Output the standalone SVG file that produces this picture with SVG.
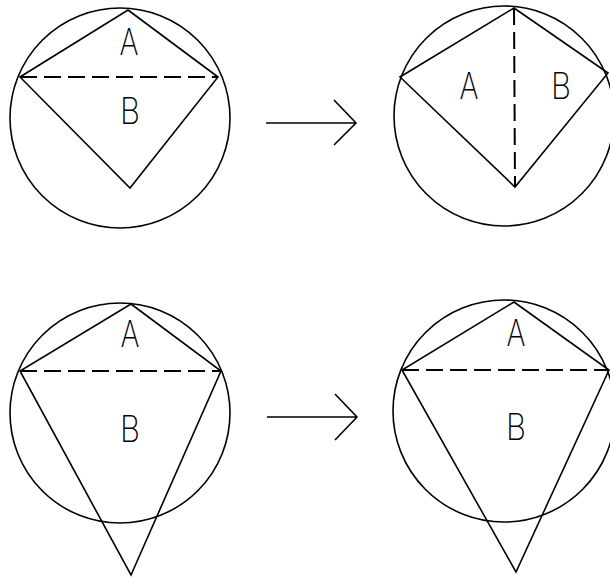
<svg xmlns="http://www.w3.org/2000/svg" width="610" height="577" viewBox="0 0 610 577">
<style>
  .c { fill: none; stroke: #000; stroke-width: 1.6; }
  .s { fill: none; stroke: #000; stroke-width: 1.6; stroke-linejoin: miter; }
  .d { fill: none; stroke: #000; stroke-width: 2; stroke-dasharray: 17 7; }
  .t { font-family: Inter, "DejaVu Sans", sans-serif; font-weight: 200; font-size: 37px; fill: #000; text-anchor: middle; }
</style>
<rect width="610" height="577" fill="#fff"/>
<g id="fig-top-left">
  <circle class="c" cx="120" cy="118" r="110"/>
  <polygon class="s" points="128,10 218,77 130,188 20,77"/>
  <line class="d" x1="20" y1="77" x2="218" y2="77"/>
  <text class="t" x="129" y="55" textLength="19" lengthAdjust="spacingAndGlyphs">A</text>
  <text class="t" x="130" y="124" textLength="20" lengthAdjust="spacingAndGlyphs">B</text>
</g>
<g id="fig-top-right">
  <circle class="c" cx="504" cy="116" r="110"/>
  <polygon class="s" points="514,8 608,73 515,187 400,77"/>
  <line class="d" x1="514" y1="8" x2="515" y2="187"/>
  <text class="t" x="469" y="99" textLength="19" lengthAdjust="spacingAndGlyphs">A</text>
  <text class="t" x="561" y="99" textLength="20" lengthAdjust="spacingAndGlyphs">B</text>
</g>
<g id="fig-bottom-left">
  <circle class="c" cx="120" cy="413" r="110"/>
  <polygon class="s" points="131,304 221,371 131,575 20,371"/>
  <line class="d" x1="20" y1="371" x2="221" y2="371"/>
  <text class="t" x="130" y="347" textLength="19" lengthAdjust="spacingAndGlyphs">A</text>
  <text class="t" x="130" y="442" textLength="20" lengthAdjust="spacingAndGlyphs">B</text>
</g>
<g id="fig-bottom-right">
  <circle class="c" cx="504" cy="411" r="111"/>
  <polygon class="s" points="514,302 609,370 516,572 402,370"/>
  <line class="d" x1="402" y1="370" x2="609" y2="370"/>
  <text class="t" x="516" y="346" textLength="19" lengthAdjust="spacingAndGlyphs">A</text>
  <text class="t" x="516" y="440" textLength="20" lengthAdjust="spacingAndGlyphs">B</text>
</g>
<g id="connectors">
  <path class="s" d="M266,123 H356 M334,100 L356,123 L334,145"/>
  <path class="s" d="M267,417 H357 M335,394 L357,417 L335,440"/>
</g>
</svg>
